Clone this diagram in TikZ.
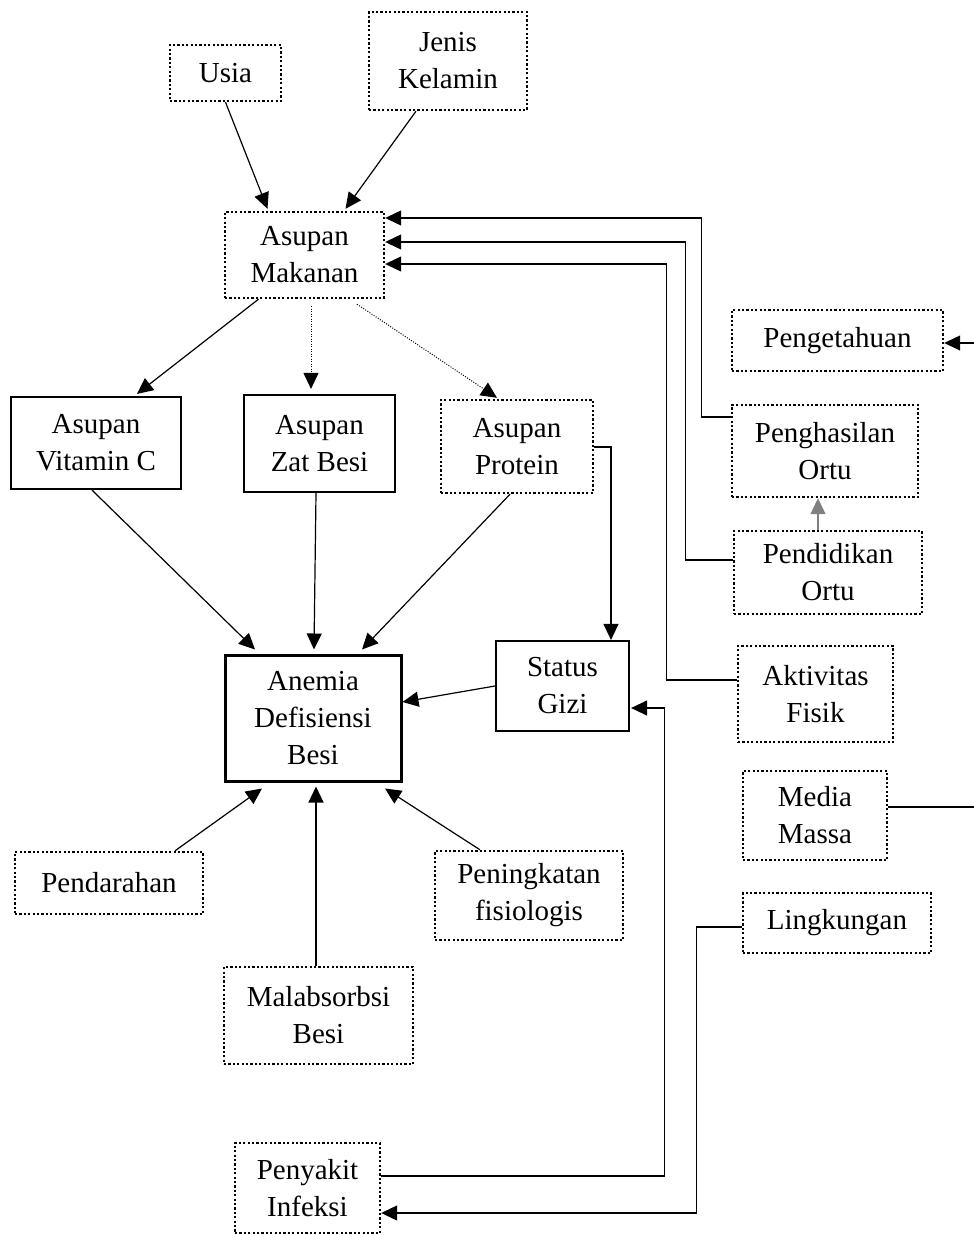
\documentclass[tikz,border=0pt]{standalone}
\usepackage{fontspec}
\setmainfont{Liberation Serif}
\usetikzlibrary{arrows.meta}
\begin{document}
\begin{tikzpicture}[x=1pt,y=-1pt,
  every node/.style={inner sep=0pt,align=center,font=\fontsize{29}{37}\selectfont},
  dotbox/.style={draw,line width=2.4pt,dash pattern=on 2.2pt off 2.2pt},
  solidbox/.style={draw,line width=2.2pt},
  thickbox/.style={draw,line width=3pt},
  arr/.style={line width=1.2pt,-{Triangle[length=16pt,width=15pt]}},
  ln/.style={line width=1.2pt},
  dotarr/.style={line width=1pt,dash pattern=on 1pt off 1.5pt,-{Triangle[length=16pt,width=15pt]}}]
\useasboundingbox (0,0) rectangle (974,1235);
\node[dotbox,minimum width=111pt,minimum height=56pt] (usia) at (225.5,73) {Usia};
\node[dotbox,minimum width=158pt,minimum height=98pt] (jk) at (448,61) {Jenis\\Kelamin};
\node[dotbox,minimum width=159pt,minimum height=86pt] (am) at (304.5,255) {Asupan\\Makanan};
\node[dotbox,minimum width=211pt,minimum height=61pt] (peng) at (837.5,340.5) {Pengetahuan};
\node[solidbox,minimum width=170pt,minimum height=92pt] (vitc) at (96,443) {Asupan\\Vitamin C};
\node[solidbox,minimum width=151pt,minimum height=97pt] (zat) at (319.5,443.5) {Asupan\\Zat Besi};
\node[dotbox,minimum width=152pt,minimum height=93pt] (prot) at (517,446.5) {Asupan\\Protein};
\node[dotbox,minimum width=186pt,minimum height=92pt] (pgh) at (825,451) {Penghasilan\\Ortu};
\node[dotbox,minimum width=188pt,minimum height=83pt] (pdd) at (828,572.5) {Pendidikan\\Ortu};
\node[dotbox,minimum width=155pt,minimum height=96pt] (akt) at (815.5,694) {Aktivitas\\Fisik};
\node[solidbox,minimum width=133pt,minimum height=90pt] (sg) at (562.5,686) {Status\\Gizi};
\node[thickbox,minimum width=176pt,minimum height=126pt] (anemia) at (313,718) {Anemia\\Defisiensi\\Besi};
\node[dotbox,minimum width=144pt,minimum height=89pt] (media) at (815,815.5) {Media\\Massa};
\node[dotbox,minimum width=188pt,minimum height=62pt] (pdr) at (109,883) {Pendarahan};
\node[dotbox,minimum width=188pt,minimum height=89pt] (pen) at (529,895.5) {Peningkatan\\fisiologis};
\node[dotbox,minimum width=188pt,minimum height=60pt] (lk) at (837,923) {Lingkungan};
\node[dotbox,minimum width=189pt,minimum height=97pt] (mal) at (318.5,1015.5) {Malabsorbsi\\Besi};
\node[dotbox,minimum width=145pt,minimum height=90pt] (pyk) at (307.5,1188) {Penyakit\\Infeksi};
\coordinate (pe) at (974,343);
\coordinate (me) at (974,807);
% connectors
\draw[arr] (usia.south) -- ([xshift=-37pt,yshift=2pt]am.north);
\draw[arr] ([xshift=-32pt]jk.south) -- ([xshift=41pt,yshift=2pt]am.north);
\draw[arr] ([yshift=34pt]pgh.west) -- ++(-29,0) |- ([yshift=37pt]am.east);
\draw[arr] ([yshift=12.5pt]pdd.west) -- ++(-47,0) |- ([yshift=13pt]am.east);
\draw[arr] ([yshift=14pt]akt.west) -- ++(-70,0) |- ([yshift=-9pt]am.east);
\draw[arr] (pe) -- (peng.east |- pe);
\draw[ln] (media.east |- me) -- (me);
\draw[arr,gray] ([xshift=-10pt]pdd.north) -- ([xshift=-7pt]pgh.south);
\draw[arr] ([xshift=-46pt]am.south) -- ([xshift=41pt,yshift=2pt]vitc.north);
\draw[dotarr] ([xshift=6.5pt,yshift=-7pt]am.south) -- ([xshift=-8.5pt,yshift=5pt]zat.north);
\draw[dotarr] ([xshift=52.5pt,yshift=-5pt]am.south) -- ([xshift=-20pt,yshift=1pt]prot.north);
\draw[arr] ([yshift=-0.5pt]prot.east) -| ([xshift=48.5pt]sg.north);
\draw[arr] ([xshift=-4pt]vitc.south) -- ([xshift=-58pt,yshift=4pt]anemia.north);
\draw[arr] ([xshift=-3.5pt]zat.south) -- ([xshift=1pt,yshift=4pt]anemia.north);
\draw[arr] ([xshift=-7pt]prot.south) -- ([xshift=49pt,yshift=4pt]anemia.north);
\draw[arr] (sg.west) -- ([yshift=16pt]anemia.east);
\draw[arr] ([xshift=66pt]pdr.north) -- ([xshift=-51pt,yshift=-6pt]anemia.south);
\draw[arr] ([xshift=-2.5pt]mal.north) -- ([xshift=3pt,yshift=-4pt]anemia.south);
\draw[arr] ([xshift=-49pt]pen.north) -- ([xshift=72pt,yshift=-6pt]anemia.south);
\draw[arr] ([yshift=12pt]pyk.east) -- ++(283,0) |- ([xshift=1pt,yshift=-22pt]sg.east);
\draw[arr] ([yshift=-4pt]lk.west) -- ++(-45,0) |- ([yshift=-25pt]pyk.east);
\end{tikzpicture}
\end{document}
